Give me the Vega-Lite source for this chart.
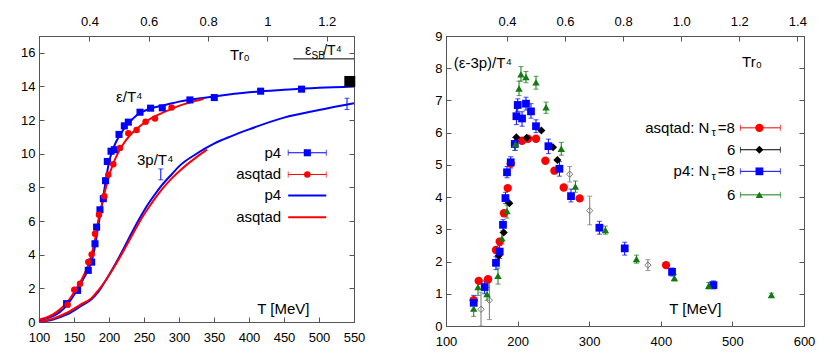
{
  "$schema": "https://vega.github.io/schema/vega-lite/v6.json",
  "background": "white",
  "padding": {"left": 20, "top": 14, "right": 5, "bottom": 5},
  "spacing": 68,
  "resolve": {"scale": {"color": "independent", "shape": "independent", "size": "independent"}},
  "config": {
    "font": "Liberation Sans",
    "view": {"stroke": "#555", "strokeWidth": 1},
    "axis": {"labelFont": "Liberation Sans", "labelFontSize": 13, "labelColor": "#000", "tickColor": "#555", "domainColor": "#555", "tickSize": -5, "grid": false, "labelPadding": 10, "labelFlush": false, "labelOverlap": false},
    "axisBottom": {"labelPadding": 14.5},
    "axisTop": {"labelPadding": 13},
    "axisLeft": {"labelPadding": 9},
    "text": {"font": "Liberation Sans", "color": "#000"}
  },
  "datasets": {
    "lvl": [{"T": 185}, {"T": 195}],
    "lcur": [
      {"s": "p4", "q": "e", "T": 100, "v": 0.1}, {"s": "p4", "q": "e", "T": 110, "v": 0.2}, {"s": "p4", "q": "e", "T": 120, "v": 0.35}, {"s": "p4", "q": "e", "T": 130, "v": 0.6}, {"s": "p4", "q": "e", "T": 140, "v": 1.0}, {"s": "p4", "q": "e", "T": 150, "v": 1.6}, {"s": "p4", "q": "e", "T": 160, "v": 2.3}, {"s": "p4", "q": "e", "T": 170, "v": 3.1}, {"s": "p4", "q": "e", "T": 175, "v": 3.6}, {"s": "p4", "q": "e", "T": 180, "v": 4.5}, {"s": "p4", "q": "e", "T": 185, "v": 5.8}, {"s": "p4", "q": "e", "T": 190, "v": 7.0}, {"s": "p4", "q": "e", "T": 195, "v": 8.3}, {"s": "p4", "q": "e", "T": 200, "v": 9.5}, {"s": "p4", "q": "e", "T": 205, "v": 10.2}, {"s": "p4", "q": "e", "T": 210, "v": 10.7}, {"s": "p4", "q": "e", "T": 220, "v": 11.4}, {"s": "p4", "q": "e", "T": 230, "v": 11.9}, {"s": "p4", "q": "e", "T": 240, "v": 12.3}, {"s": "p4", "q": "e", "T": 260, "v": 12.7}, {"s": "p4", "q": "e", "T": 280, "v": 12.9}, {"s": "p4", "q": "e", "T": 300, "v": 13.1}, {"s": "p4", "q": "e", "T": 350, "v": 13.4}, {"s": "p4", "q": "e", "T": 400, "v": 13.65}, {"s": "p4", "q": "e", "T": 450, "v": 13.8}, {"s": "p4", "q": "e", "T": 500, "v": 13.92}, {"s": "p4", "q": "e", "T": 550, "v": 14.0},
      {"s": "p4", "q": "p", "T": 100, "v": 0}, {"s": "p4", "q": "p", "T": 120, "v": 0.15}, {"s": "p4", "q": "p", "T": 140, "v": 0.45}, {"s": "p4", "q": "p", "T": 160, "v": 0.95}, {"s": "p4", "q": "p", "T": 175, "v": 1.35}, {"s": "p4", "q": "p", "T": 185, "v": 1.8}, {"s": "p4", "q": "p", "T": 195, "v": 2.45}, {"s": "p4", "q": "p", "T": 205, "v": 3.15}, {"s": "p4", "q": "p", "T": 215, "v": 3.9}, {"s": "p4", "q": "p", "T": 225, "v": 4.7}, {"s": "p4", "q": "p", "T": 235, "v": 5.5}, {"s": "p4", "q": "p", "T": 245, "v": 6.25}, {"s": "p4", "q": "p", "T": 255, "v": 6.95}, {"s": "p4", "q": "p", "T": 265, "v": 7.55}, {"s": "p4", "q": "p", "T": 275, "v": 8.1}, {"s": "p4", "q": "p", "T": 290, "v": 8.8}, {"s": "p4", "q": "p", "T": 300, "v": 9.25}, {"s": "p4", "q": "p", "T": 325, "v": 10.0}, {"s": "p4", "q": "p", "T": 350, "v": 10.6}, {"s": "p4", "q": "p", "T": 375, "v": 11.05}, {"s": "p4", "q": "p", "T": 400, "v": 11.45}, {"s": "p4", "q": "p", "T": 450, "v": 12.15}, {"s": "p4", "q": "p", "T": 500, "v": 12.6}, {"s": "p4", "q": "p", "T": 550, "v": 13.0},
      {"s": "asqtad", "q": "e", "T": 100, "v": 0.15}, {"s": "asqtad", "q": "e", "T": 110, "v": 0.25}, {"s": "asqtad", "q": "e", "T": 120, "v": 0.45}, {"s": "asqtad", "q": "e", "T": 130, "v": 0.75}, {"s": "asqtad", "q": "e", "T": 140, "v": 1.15}, {"s": "asqtad", "q": "e", "T": 150, "v": 1.75}, {"s": "asqtad", "q": "e", "T": 160, "v": 2.45}, {"s": "asqtad", "q": "e", "T": 170, "v": 3.35}, {"s": "asqtad", "q": "e", "T": 175, "v": 4.0}, {"s": "asqtad", "q": "e", "T": 180, "v": 4.9}, {"s": "asqtad", "q": "e", "T": 185, "v": 6.1}, {"s": "asqtad", "q": "e", "T": 190, "v": 7.0}, {"s": "asqtad", "q": "e", "T": 195, "v": 7.9}, {"s": "asqtad", "q": "e", "T": 200, "v": 8.7}, {"s": "asqtad", "q": "e", "T": 205, "v": 9.3}, {"s": "asqtad", "q": "e", "T": 210, "v": 9.8}, {"s": "asqtad", "q": "e", "T": 220, "v": 10.55}, {"s": "asqtad", "q": "e", "T": 230, "v": 11.1}, {"s": "asqtad", "q": "e", "T": 240, "v": 11.5}, {"s": "asqtad", "q": "e", "T": 260, "v": 12.1}, {"s": "asqtad", "q": "e", "T": 280, "v": 12.5}, {"s": "asqtad", "q": "e", "T": 300, "v": 12.85}, {"s": "asqtad", "q": "e", "T": 320, "v": 13.1}, {"s": "asqtad", "q": "e", "T": 335, "v": 13.25},
      {"s": "asqtad", "q": "p", "T": 100, "v": 0}, {"s": "asqtad", "q": "p", "T": 120, "v": 0.2}, {"s": "asqtad", "q": "p", "T": 140, "v": 0.55}, {"s": "asqtad", "q": "p", "T": 160, "v": 1.05}, {"s": "asqtad", "q": "p", "T": 175, "v": 1.42}, {"s": "asqtad", "q": "p", "T": 185, "v": 1.9}, {"s": "asqtad", "q": "p", "T": 195, "v": 2.45}, {"s": "asqtad", "q": "p", "T": 205, "v": 3.1}, {"s": "asqtad", "q": "p", "T": 215, "v": 3.8}, {"s": "asqtad", "q": "p", "T": 225, "v": 4.55}, {"s": "asqtad", "q": "p", "T": 235, "v": 5.3}, {"s": "asqtad", "q": "p", "T": 245, "v": 6.05}, {"s": "asqtad", "q": "p", "T": 255, "v": 6.7}, {"s": "asqtad", "q": "p", "T": 265, "v": 7.3}, {"s": "asqtad", "q": "p", "T": 275, "v": 7.85}, {"s": "asqtad", "q": "p", "T": 290, "v": 8.55}, {"s": "asqtad", "q": "p", "T": 300, "v": 8.95}, {"s": "asqtad", "q": "p", "T": 325, "v": 9.8}, {"s": "asqtad", "q": "p", "T": 340, "v": 10.25}
    ],
    "lerr": [{"T": 274, "lo": 8.45, "hi": 9.1}, {"T": 540, "lo": 12.63, "hi": 13.3}],
    "lpts": [
      {"s": "p4", "T": 139.4, "v": 1.09}, {"s": "p4", "T": 155.1, "v": 1.88}, {"s": "p4", "T": 170.4, "v": 3.07}, {"s": "p4", "T": 175.2, "v": 3.56}, {"s": "p4", "T": 180, "v": 4.65}, {"s": "p4", "T": 182.3, "v": 5.64}, {"s": "p4", "T": 187.1, "v": 6.67}, {"s": "p4", "T": 191.9, "v": 7.33}, {"s": "p4", "T": 195.1, "v": 8.4}, {"s": "p4", "T": 197.6, "v": 9.54}, {"s": "p4", "T": 202.9, "v": 10.15}, {"s": "p4", "T": 207.6, "v": 10.24}, {"s": "p4", "T": 214.3, "v": 11.15}, {"s": "p4", "T": 221.9, "v": 11.66}, {"s": "p4", "T": 227.6, "v": 11.88}, {"s": "p4", "T": 244.3, "v": 12.47}, {"s": "p4", "T": 259.4, "v": 12.71}, {"s": "p4", "T": 276.1, "v": 12.73}, {"s": "p4", "T": 315.6, "v": 13.2}, {"s": "p4", "T": 350.4, "v": 13.34}, {"s": "p4", "T": 416.6, "v": 13.72}, {"s": "p4", "T": 475.1, "v": 13.84},
      {"s": "asqtad", "T": 140.9, "v": 1.03}, {"s": "asqtad", "T": 150.4, "v": 1.92}, {"s": "asqtad", "T": 158.6, "v": 2.28}, {"s": "asqtad", "T": 170.4, "v": 3.56}, {"s": "asqtad", "T": 175.2, "v": 4.02}, {"s": "asqtad", "T": 180, "v": 5.25}, {"s": "asqtad", "T": 185.7, "v": 6.38}, {"s": "asqtad", "T": 193.3, "v": 7.48}, {"s": "asqtad", "T": 199, "v": 8.75}, {"s": "asqtad", "T": 206.1, "v": 9.38}, {"s": "asqtad", "T": 215.7, "v": 10.35}, {"s": "asqtad", "T": 227.6, "v": 11.22}, {"s": "asqtad", "T": 239.4, "v": 11.41}, {"s": "asqtad", "T": 252.3, "v": 11.9}, {"s": "asqtad", "T": 265.7, "v": 12.1}, {"s": "asqtad", "T": 289.4, "v": 12.75}
    ],
    "lsbpt": [{"T": 544, "v": 14.3}],
    "ltxt": [{"T": 229, "v": 13.4, "txt": "ε/T⁴"}, {"T": 266, "v": 9.6, "txt": "3p/T⁴"}, {"T": 387, "v": 15.9, "txt": "Tr₀"}, {"T": 449, "v": 0.8, "txt": "T [MeV]"}],
    "lsbbig": [{"T": 480, "v": 16.13, "txt": "ε"}, {"T": 506, "v": 16.13, "txt": "/T⁴"}],
    "lsbsmall": [{"T": 489.4, "v": 15.84, "txt": "SB"}],
    "lsbl": [{"T": 463.3, "T2": 550, "v": 15.64}],
    "llegT": [{"T": 446, "v": 10.06, "txt": "p4"}, {"T": 446, "v": 8.77, "txt": "asqtad"}, {"T": 446, "v": 7.52, "txt": "p4"}, {"T": 446, "v": 6.23, "txt": "asqtad"}],
    "llegE": [{"T": 456, "T2": 510.4, "v": 10.06, "s": "p4"}, {"T": 456, "T2": 510.4, "v": 8.77, "s": "asqtad"}],
    "llegC": [{"T": 456, "v": 10.06, "s": "p4"}, {"T": 510.4, "v": 10.06, "s": "p4"}, {"T": 456, "v": 8.77, "s": "asqtad"}, {"T": 510.4, "v": 8.77, "s": "asqtad"}],
    "llegL": [{"T": 456, "T2": 510.4, "v": 7.52, "s": "p4"}, {"T": 456, "T2": 510.4, "v": 6.23, "s": "asqtad"}],
    "llegM": [{"T": 483.3, "v": 10.06, "s": "p4"}, {"T": 483.3, "v": 8.77, "s": "asqtad"}],
    "laxis": [{"tr": 0.4, "yv": 0}],
    "rpts": [
      {"s": "asq8", "T": 138.7, "v": 0.8}, {"s": "asq8", "T": 145.7, "v": 1.4}, {"s": "asq8", "T": 158.7, "v": 1.45}, {"s": "asq8", "T": 169.8, "v": 2.36}, {"s": "asq8", "T": 175, "v": 2.62}, {"s": "asq8", "T": 181, "v": 3.5}, {"s": "asq8", "T": 186.2, "v": 4.28}, {"s": "asq8", "T": 190.4, "v": 5.04}, {"s": "asq8", "T": 206.2, "v": 5.75}, {"s": "asq8", "T": 214.5, "v": 5.81}, {"s": "asq8", "T": 225.7, "v": 5.81}, {"s": "asq8", "T": 238.8, "v": 5.13}, {"s": "asq8", "T": 251.4, "v": 4.82}, {"s": "asq8", "T": 264.4, "v": 4.3}, {"s": "asq8", "T": 286.7, "v": 3.96}, {"s": "asq8", "T": 407.3, "v": 1.89},
      {"s": "asq6", "T": 173.6, "v": 2.18}, {"s": "asq6", "T": 180.6, "v": 2.9}, {"s": "asq6", "T": 188.5, "v": 3.81}, {"s": "asq6", "T": 198.3, "v": 5.86}, {"s": "asq6", "T": 212.7, "v": 5.84}, {"s": "asq6", "T": 233.2, "v": 6.07}, {"s": "asq6", "T": 249.5, "v": 5.55}, {"s": "asq6", "T": 255.6, "v": 5.15},
      {"s": "p48", "T": 138.7, "v": 0.72, "lo": 0.5, "hi": 0.95}, {"s": "p48", "T": 154, "v": 1.21, "lo": 1.0, "hi": 1.4}, {"s": "p48", "T": 169.8, "v": 1.96, "lo": 1.75, "hi": 2.15}, {"s": "p48", "T": 175, "v": 2.31, "lo": 2.1, "hi": 2.5}, {"s": "p48", "T": 179.6, "v": 3.14, "lo": 2.95, "hi": 3.3}, {"s": "p48", "T": 183, "v": 3.97, "lo": 3.8, "hi": 4.15}, {"s": "p48", "T": 185.2, "v": 4.77, "lo": 4.6, "hi": 4.95}, {"s": "p48", "T": 190.4, "v": 5.08, "lo": 4.9, "hi": 5.25}, {"s": "p48", "T": 196, "v": 5.65, "lo": 5.45, "hi": 5.85}, {"s": "p48", "T": 198.3, "v": 6.51, "lo": 6.25, "hi": 6.75}, {"s": "p48", "T": 200.2, "v": 6.86, "lo": 6.65, "hi": 7.05}, {"s": "p48", "T": 206.2, "v": 6.44, "lo": 6.2, "hi": 6.65}, {"s": "p48", "T": 211.7, "v": 6.9, "lo": 6.7, "hi": 7.1}, {"s": "p48", "T": 218.7, "v": 6.66, "lo": 6.45, "hi": 6.9}, {"s": "p48", "T": 225.7, "v": 6.2, "lo": 6.0, "hi": 6.4}, {"s": "p48", "T": 243, "v": 5.58, "lo": 5.35, "hi": 5.8}, {"s": "p48", "T": 258.4, "v": 4.88, "lo": 4.65, "hi": 5.1}, {"s": "p48", "T": 274.6, "v": 4.03, "lo": 3.85, "hi": 4.25}, {"s": "p48", "T": 314.2, "v": 3.05, "lo": 2.85, "hi": 3.25}, {"s": "p48", "T": 349.6, "v": 2.41, "lo": 2.2, "hi": 2.6}, {"s": "p48", "T": 415.7, "v": 1.68, "lo": 1.55, "hi": 1.8}, {"s": "p48", "T": 473.5, "v": 1.27, "lo": 1.15, "hi": 1.4},
      {"s": "p46", "T": 138.7, "v": 0.54, "lo": 0.3, "hi": 0.8}, {"s": "p46", "T": 144.7, "v": 1.21, "lo": 0.95, "hi": 1.45}, {"s": "p46", "T": 157.3, "v": 0.99, "lo": 0.8, "hi": 1.2}, {"s": "p46", "T": 172.6, "v": 1.56, "lo": 1.3, "hi": 1.8}, {"s": "p46", "T": 178.2, "v": 2.72, "lo": 2.55, "hi": 2.9}, {"s": "p46", "T": 185.2, "v": 3.57, "lo": 3.35, "hi": 3.75}, {"s": "p46", "T": 197, "v": 5.65, "lo": 5.45, "hi": 5.85}, {"s": "p46", "T": 202, "v": 7.37, "lo": 7.15, "hi": 7.6}, {"s": "p46", "T": 204.7, "v": 7.81, "lo": 7.6, "hi": 8.05}, {"s": "p46", "T": 211.7, "v": 7.73, "lo": 7.55, "hi": 7.9}, {"s": "p46", "T": 225.7, "v": 7.56, "lo": 7.35, "hi": 7.75}, {"s": "p46", "T": 239.7, "v": 6.79, "lo": 6.6, "hi": 6.95}, {"s": "p46", "T": 261, "v": 5.5, "lo": 5.3, "hi": 5.7}, {"s": "p46", "T": 280.7, "v": 4.33, "lo": 4.15, "hi": 4.5}, {"s": "p46", "T": 322.6, "v": 2.98, "lo": 2.85, "hi": 3.1}, {"s": "p46", "T": 366, "v": 2.08, "lo": 1.95, "hi": 2.2}, {"s": "p46", "T": 419, "v": 1.49, "lo": 1.4, "hi": 1.6}, {"s": "p46", "T": 466.9, "v": 1.25, "lo": 1.15, "hi": 1.35}, {"s": "p46", "T": 554.5, "v": 0.96, "lo": 0.9, "hi": 1.02},
      {"s": "open", "T": 148.9, "v": 0.52, "lo": 0.0, "hi": 1.05}, {"s": "open", "T": 160.6, "v": 0.8, "lo": 0.2, "hi": 1.4}, {"s": "open", "T": 272.8, "v": 4.71, "lo": 4.47, "hi": 4.95}, {"s": "open", "T": 300.7, "v": 3.58, "lo": 3.14, "hi": 4.03}, {"s": "open", "T": 382, "v": 1.89, "lo": 1.72, "hi": 2.06}
    ],
    "rtxt": [{"T": 527.4, "v": 8.2, "txt": "Tr₀"}, {"T": 448.3, "v": 0.54, "txt": "T [MeV]"}],
    "rtitle": [{"T": 110.8, "v": 8.17, "txt": "(ε-3p)/T⁴"}],
    "rlegT": [{"T": 467.9, "v": 6.15, "txt": "asqtad: N"}, {"T": 504.2, "v": 5.47, "txt": "6"}, {"T": 467.9, "v": 4.8, "txt": "p4: N"}, {"T": 504.2, "v": 4.07, "txt": "6"}],
    "rlegTau": [{"T": 473.9, "v": 5.98, "txt": "τ"}, {"T": 473.9, "v": 4.63, "txt": "τ"}],
    "rlegEq": [{"T": 479.5, "v": 6.15, "txt": "=8"}, {"T": 479.5, "v": 4.8, "txt": "=8"}],
    "rlegL": [{"T": 511.2, "T2": 567, "v": 6.15, "s": "asq8"}, {"T": 511.2, "T2": 567, "v": 5.47, "s": "asq6"}, {"T": 511.2, "T2": 567, "v": 4.8, "s": "p48"}, {"T": 511.2, "T2": 567, "v": 4.07, "s": "p46"}],
    "rlegC": [{"T": 511.2, "v": 6.15, "s": "asq8"}, {"T": 567, "v": 6.15, "s": "asq8"}, {"T": 511.2, "v": 5.47, "s": "asq6"}, {"T": 567, "v": 5.47, "s": "asq6"}, {"T": 511.2, "v": 4.8, "s": "p48"}, {"T": 567, "v": 4.8, "s": "p48"}, {"T": 511.2, "v": 4.07, "s": "p46"}, {"T": 567, "v": 4.07, "s": "p46"}],
    "rlegM": [{"T": 537.7, "v": 6.15, "s": "asq8"}, {"T": 537.7, "v": 5.47, "s": "asq6"}, {"T": 537.7, "v": 4.8, "s": "p48"}, {"T": 537.7, "v": 4.07, "s": "p46"}],
    "raxis": [{"tr": 0.4, "yv": 0}]
  },
  "hconcat": [
    {
      "width": 315,
      "height": 286,
      "resolve": {"scale": {"x": "independent", "y": "independent"}},
      "layer": [
        {
          "encoding": {
            "x": {"field": "T", "type": "quantitative", "scale": {"domain": [100, 550], "nice": false, "zero": false}, "axis": {"title": null, "values": [100, 150, 200, 250, 300, 350, 400, 450, 500, 550]}},
            "y": {"field": "v", "type": "quantitative", "scale": {"domain": [0, 17], "nice": false, "zero": false}, "axis": {"title": null, "values": [0, 2, 4, 6, 8, 10, 12, 14, 16]}}
          },
          "layer": [
            {"data": {"name": "lvl"}, "mark": {"type": "rule", "color": "#777", "strokeWidth": 1}, "encoding": {"y": {"datum": 0}, "y2": {"datum": 17}}},
            {"data": {"name": "lcur"}, "mark": {"type": "line", "strokeWidth": 2, "interpolate": "monotone"}, "encoding": {"color": {"field": "s", "type": "nominal", "scale": {"domain": ["p4", "asqtad"], "range": ["#0000ff", "#ff0000"]}, "legend": null}, "detail": {"field": "q"}}},
            {"data": {"name": "lerr"}, "mark": {"type": "rule", "color": "#0000ff", "strokeWidth": 1}, "encoding": {"y": {"field": "lo", "type": "quantitative"}, "y2": {"field": "hi"}}},
            {"data": {"name": "lerr"}, "mark": {"type": "tick", "orient": "horizontal", "color": "#0000ff", "size": 5, "thickness": 1}, "encoding": {"y": {"field": "lo", "type": "quantitative"}}},
            {"data": {"name": "lerr"}, "mark": {"type": "tick", "orient": "horizontal", "color": "#0000ff", "size": 5, "thickness": 1}, "encoding": {"y": {"field": "hi", "type": "quantitative"}}},
            {"data": {"name": "lpts"}, "mark": {"type": "point", "filled": true, "opacity": 1}, "encoding": {
              "color": {"field": "s", "type": "nominal", "legend": null},
              "shape": {"field": "s", "type": "nominal", "scale": {"domain": ["p4", "asqtad"], "range": ["square", "circle"]}, "legend": null},
              "size": {"field": "s", "type": "ordinal", "scale": {"domain": ["p4", "asqtad"], "range": [50, 42]}, "legend": null}}},
            {"data": {"name": "lsbpt"}, "mark": {"type": "point", "shape": "square", "filled": true, "color": "#000", "size": 120, "opacity": 1}},
            {"data": {"name": "ltxt"}, "mark": {"type": "text", "fontSize": 15, "align": "center", "baseline": "middle"}, "encoding": {"text": {"field": "txt"}}},
            {"data": {"name": "lsbbig"}, "mark": {"type": "text", "fontSize": 14, "align": "left", "baseline": "middle"}, "encoding": {"text": {"field": "txt"}}},
            {"data": {"name": "lsbsmall"}, "mark": {"type": "text", "fontSize": 10, "align": "left", "baseline": "middle"}, "encoding": {"text": {"field": "txt"}}},
            {"data": {"name": "lsbl"}, "mark": {"type": "rule", "color": "#000", "strokeWidth": 1}, "encoding": {"x2": {"field": "T2"}}},
            {"data": {"name": "llegT"}, "mark": {"type": "text", "fontSize": 15, "align": "right", "baseline": "middle"}, "encoding": {"text": {"field": "txt"}}},
            {"data": {"name": "llegE"}, "mark": {"type": "rule", "strokeWidth": 1}, "encoding": {"x2": {"field": "T2"}, "color": {"field": "s", "type": "nominal", "legend": null}}},
            {"data": {"name": "llegC"}, "mark": {"type": "tick", "orient": "vertical", "size": 6, "thickness": 1}, "encoding": {"color": {"field": "s", "type": "nominal", "legend": null}}},
            {"data": {"name": "llegL"}, "mark": {"type": "rule", "strokeWidth": 2}, "encoding": {"x2": {"field": "T2"}, "color": {"field": "s", "type": "nominal", "legend": null}}},
            {"data": {"name": "llegM"}, "mark": {"type": "point", "filled": true, "opacity": 1}, "encoding": {
              "color": {"field": "s", "type": "nominal", "legend": null},
              "shape": {"field": "s", "type": "nominal", "legend": null},
              "size": {"field": "s", "type": "ordinal", "legend": null}}}
          ]
        },
        {
          "data": {"name": "laxis"},
          "mark": {"type": "point", "opacity": 0},
          "encoding": {
            "x": {"field": "tr", "type": "quantitative", "scale": {"domain": [0.23, 1.292], "nice": false, "zero": false}, "axis": {"orient": "top", "title": null, "values": [0.4, 0.6, 0.8, 1, 1.2], "format": "~g"}},
            "y": {"field": "yv", "type": "quantitative", "scale": {"domain": [0, 17], "nice": false, "zero": false}, "axis": {"orient": "right", "title": null, "labels": false, "values": [0, 2, 4, 6, 8, 10, 12, 14, 16]}}
          }
        }
      ]
    },
    {
      "width": 358,
      "height": 290,
      "resolve": {"scale": {"x": "independent", "y": "independent"}},
      "layer": [
        {
          "encoding": {
            "x": {"field": "T", "type": "quantitative", "scale": {"domain": [100, 600], "nice": false, "zero": false}, "axis": {"title": null, "values": [100, 200, 300, 400, 500, 600]}},
            "y": {"field": "v", "type": "quantitative", "scale": {"domain": [0, 9], "nice": false, "zero": false}, "axis": {"title": null, "values": [0, 1, 2, 3, 4, 5, 6, 7, 8, 9]}}
          },
          "layer": [
            {"data": {"name": "rpts"}, "mark": {"type": "rule", "strokeWidth": 1}, "encoding": {"y": {"field": "lo", "type": "quantitative"}, "y2": {"field": "hi"}, "color": {"field": "s", "type": "nominal", "scale": {"domain": ["asq8", "asq6", "p48", "p46", "open"], "range": ["#ff0000", "#000000", "#0000ff", "#137a13", "#777777"]}, "legend": null}}},
            {"data": {"name": "rpts"}, "mark": {"type": "tick", "orient": "horizontal", "size": 5, "thickness": 1}, "encoding": {"y": {"field": "lo", "type": "quantitative"}, "color": {"field": "s", "type": "nominal", "legend": null}}},
            {"data": {"name": "rpts"}, "mark": {"type": "tick", "orient": "horizontal", "size": 5, "thickness": 1}, "encoding": {"y": {"field": "hi", "type": "quantitative"}, "color": {"field": "s", "type": "nominal", "legend": null}}},
            {"data": {"name": "rpts"}, "transform": [{"filter": "datum.s === 'open'"}], "mark": {"type": "point", "shape": "diamond", "filled": false, "color": "#777", "size": 40, "strokeWidth": 1, "opacity": 1}},
            {"data": {"name": "rpts"}, "transform": [{"filter": "datum.s !== 'open'"}], "mark": {"type": "point", "filled": true, "opacity": 1}, "encoding": {
              "color": {"field": "s", "type": "nominal", "legend": null},
              "shape": {"field": "s", "type": "nominal", "scale": {"domain": ["asq8", "asq6", "p48", "p46"], "range": ["circle", "diamond", "square", "triangle-up"]}, "legend": null},
              "size": {"field": "s", "type": "ordinal", "scale": {"domain": ["asq8", "asq6", "p48", "p46"], "range": [70, 55, 100, 50]}, "legend": null}}},
            {"data": {"name": "rtitle"}, "mark": {"type": "text", "fontSize": 15, "align": "left", "baseline": "middle"}, "encoding": {"text": {"field": "txt"}}},
            {"data": {"name": "rtxt"}, "mark": {"type": "text", "fontSize": 15, "align": "center", "baseline": "middle"}, "encoding": {"text": {"field": "txt"}}},
            {"data": {"name": "rlegT"}, "mark": {"type": "text", "fontSize": 15, "align": "right", "baseline": "middle"}, "encoding": {"text": {"field": "txt"}}},
            {"data": {"name": "rlegTau"}, "mark": {"type": "text", "fontSize": 11, "align": "center", "baseline": "middle"}, "encoding": {"text": {"field": "txt"}}},
            {"data": {"name": "rlegEq"}, "mark": {"type": "text", "fontSize": 15, "align": "left", "baseline": "middle"}, "encoding": {"text": {"field": "txt"}}},
            {"data": {"name": "rlegL"}, "mark": {"type": "rule", "strokeWidth": 1}, "encoding": {"x2": {"field": "T2"}, "color": {"field": "s", "type": "nominal", "legend": null}}},
            {"data": {"name": "rlegC"}, "mark": {"type": "tick", "orient": "vertical", "size": 6, "thickness": 1}, "encoding": {"color": {"field": "s", "type": "nominal", "legend": null}}},
            {"data": {"name": "rlegM"}, "mark": {"type": "point", "filled": true, "opacity": 1}, "encoding": {
              "color": {"field": "s", "type": "nominal", "legend": null},
              "shape": {"field": "s", "type": "nominal", "legend": null},
              "size": {"field": "s", "type": "ordinal", "legend": null}}}
          ]
        },
        {
          "data": {"name": "raxis"},
          "mark": {"type": "point", "opacity": 0},
          "encoding": {
            "x": {"field": "tr", "type": "quantitative", "scale": {"domain": [0.19, 1.423], "nice": false, "zero": false}, "axis": {"orient": "top", "title": null, "values": [0.4, 0.6, 0.8, 1.0, 1.2, 1.4], "format": ".1f"}},
            "y": {"field": "yv", "type": "quantitative", "scale": {"domain": [0, 9], "nice": false, "zero": false}, "axis": {"orient": "right", "title": null, "labels": false, "values": [0, 1, 2, 3, 4, 5, 6, 7, 8, 9]}}
          }
        }
      ]
    }
  ]
}
